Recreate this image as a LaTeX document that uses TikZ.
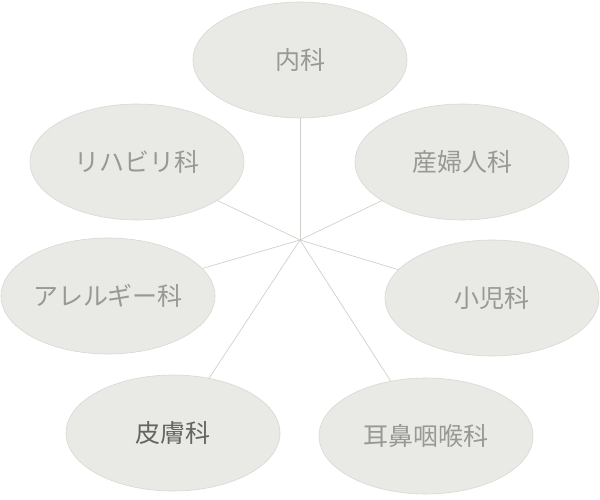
\documentclass[tikz,border=0pt]{standalone}
\usepackage{fontspec}
\newfontfamily\jpfont{Noto Sans CJK JP}
\usetikzlibrary{shapes.geometric}

\definecolor{discfill}{RGB}{233,233,229}
\definecolor{discedge}{RGB}{216,216,211}
\definecolor{spoke}{RGB}{208,208,203}
\definecolor{labelgray}{RGB}{152,152,150}
\definecolor{labeldark}{RGB}{100,100,98}

\begin{document}
\begin{tikzpicture}[x=1pt, y=-1pt,
  dept/.style={ellipse, fill=discfill, draw=discedge, line width=0.6pt,
    minimum width=214pt, minimum height=116pt, inner sep=0pt,
    text=labelgray, font=\jpfont\fontsize{25pt}{30pt}\selectfont},
  active/.style={dept, text=labeldark}]
  \useasboundingbox (0,0) rectangle (600,500);

  \coordinate (O) at (300, 240);
  \coordinate (N1) at (300, 60);
  \coordinate (N2) at (462, 162);
  \coordinate (N3) at (492, 298);
  \coordinate (N4) at (426, 436);
  \coordinate (N5) at (173, 433);
  \coordinate (N6) at (108, 296);
  \coordinate (N7) at (137, 162);

  % 中心からの線
  \foreach \p in {N1,N2,N3,N4,N5,N6,N7}
    \draw[spoke, line width=0.7pt] (O) -- (\p);

  % 各科
  \node[dept]   (naika)   at (N1) {内科};
  \node[dept]   (sanfu)   at (N2) {産婦人科};
  \node[dept]   (shoni)   at (N3) {小児科};
  \node[dept]   (jibi)    at (N4) {耳鼻咽喉科};
  \node[active] (hifu)    at (N5) {皮膚科};
  \node[dept]   (arerugi) at (N6) {アレルギー科};
  \node[dept]   (riha)    at (N7) {リハビリ科};
\end{tikzpicture}
\end{document}
